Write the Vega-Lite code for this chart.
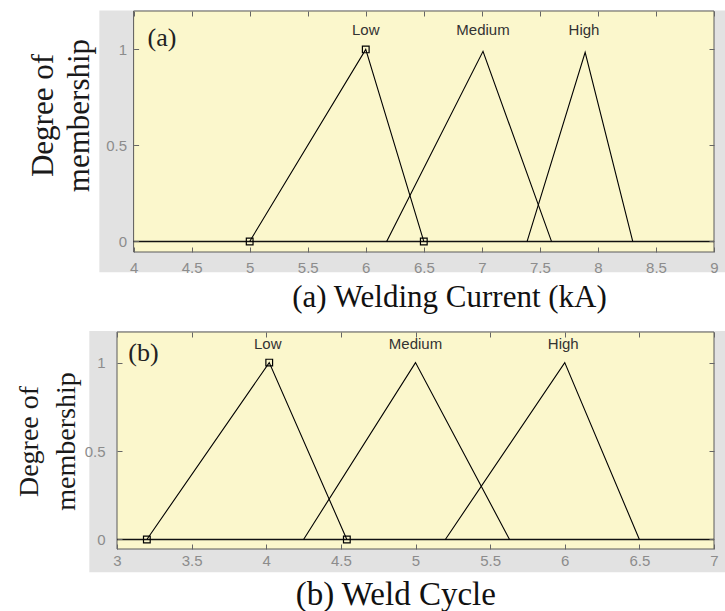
{
  "$schema": "https://vega.github.io/schema/vega-lite/v6.json",
  "background": "white",
  "padding": {"left": 15, "top": 10, "right": 0, "bottom": 0},
  "spacing": 17,
  "config": {"view": {"stroke": null}, "axis": {"titleFont": "Liberation Serif", "labelFont": "Liberation Sans"}},
  "datasets": {
    "curA": [
      {"set": "Low", "x": 5, "y": 0}, {"set": "Low", "x": 6, "y": 1}, {"set": "Low", "x": 6.5, "y": 0},
      {"set": "Medium", "x": 6.18, "y": 0}, {"set": "Medium", "x": 7.01, "y": 0.99}, {"set": "Medium", "x": 7.6, "y": 0},
      {"set": "High", "x": 7.39, "y": 0}, {"set": "High", "x": 7.89, "y": 0.985}, {"set": "High", "x": 8.3, "y": 0}
    ],
    "curB": [
      {"set": "Low", "x": 3.2, "y": 0}, {"set": "Low", "x": 4.02, "y": 1}, {"set": "Low", "x": 4.54, "y": 0},
      {"set": "Medium", "x": 4.25, "y": 0}, {"set": "Medium", "x": 5.0, "y": 1}, {"set": "Medium", "x": 5.63, "y": 0},
      {"set": "High", "x": 5.2, "y": 0}, {"set": "High", "x": 6.0, "y": 1}, {"set": "High", "x": 6.5, "y": 0}
    ],
    "ptsA": [{"x": 5, "y": 0}, {"x": 6, "y": 1}, {"x": 6.5, "y": 0}],
    "ptsB": [{"x": 3.2, "y": 0}, {"x": 4.02, "y": 1}, {"x": 4.54, "y": 0}],
    "labA": [{"label": "Low", "x": 6}, {"label": "Medium", "x": 7.01}, {"label": "High", "x": 7.88}],
    "labB": [{"label": "Low", "x": 4.01}, {"label": "Medium", "x": 5}, {"label": "High", "x": 5.99}],
    "one": [{}]
  },
  "vconcat": [
    {
      "width": 597,
      "height": 241,
      "resolve": {"axis": {"x": "independent", "y": "independent"}},
      "layer": [
        {
          "data": {"name": "one"},
          "mark": {"type": "rect", "color": "#e2e2e2", "clip": false},
          "encoding": {
            "x": {"datum": 3.705, "type": "quantitative", "scale": {"domain": [3.857, 9], "nice": false, "zero": false}, "axis": null},
            "x2": {"datum": 9.1},
            "y": {"datum": -0.16, "type": "quantitative", "scale": {"domain": [-0.055, 1.2], "nice": false, "zero": false}, "axis": null},
            "y2": {"datum": 1.203}
          }
        },
        {
          "data": {"name": "one"},
          "mark": {"type": "rect", "fill": "#fbf7cc", "stroke": "#5a5a5a", "strokeWidth": 1, "clip": false},
          "encoding": {
            "x": {"datum": 4, "type": "quantitative", "scale": {"domain": [3.857, 9], "nice": false, "zero": false},
              "axis": {"orient": "bottom", "values": [4, 4.5, 5, 5.5, 6, 6.5, 7, 7.5, 8, 8.5, 9], "format": "~g", "domain": false, "grid": false,
                "tickSize": -5, "tickColor": "#666", "labelFont": "Liberation Sans", "labelFontSize": 15, "labelColor": "#8c8c8c",
                "labelPadding": 13, "labelFlush": false, "labelOverlap": false,
                "title": "(a) Welding Current (kA)", "titleFont": "Liberation Serif", "titleFontSize": 31, "titleFontWeight": "normal",
                "titleColor": "#111", "titleBaseline": "alphabetic", "titleAlign": "center", "titleX": 332, "titleY": 54.5, "zindex": 1}},
            "x2": {"datum": 9},
            "y": {"datum": -0.055, "type": "quantitative", "scale": {"domain": [-0.055, 1.2], "nice": false, "zero": false},
              "axis": {"orient": "left", "offset": -16.6, "values": [0, 0.5, 1], "format": "~g", "domain": false, "grid": false,
                "tickSize": -5, "tickColor": "#666", "labelFont": "Liberation Sans", "labelFontSize": 15, "labelColor": "#8c8c8c",
                "labelPadding": 12, "labelOverlap": false,
                "title": ["Degree of", "membership"], "titleFont": "Liberation Serif", "titleFontSize": 31, "titleFontWeight": "normal",
                "titleColor": "#1a1a1a", "titleAngle": -90, "titleAlign": "center", "titleBaseline": "middle", "titleLineHeight": 35.5,
                "titleX": -89.8, "titleY": 104, "zindex": 1}},
            "y2": {"datum": 1.2}
          }
        },
        {
          "data": {"name": "one"},
          "mark": {"type": "rule", "color": "#111", "strokeWidth": 1.5},
          "encoding": {
            "x": {"datum": 4, "type": "quantitative", "scale": {"domain": [3.857, 9], "nice": false, "zero": false},
              "axis": {"orient": "top", "values": [4, 4.5, 5, 5.5, 6, 6.5, 7, 7.5, 8, 8.5, 9], "labels": false, "domain": false, "grid": false,
                "tickSize": -5, "tickColor": "#666", "title": null, "zindex": 1}},
            "x2": {"datum": 9},
            "y": {"datum": 0, "type": "quantitative", "scale": {"domain": [-0.055, 1.2], "nice": false, "zero": false},
              "axis": {"orient": "right", "values": [0, 0.5, 1], "labels": false, "domain": false, "grid": false,
                "tickSize": -5, "tickColor": "#666", "title": null, "zindex": 1}}
          }
        },
        {
          "data": {"name": "curA"},
          "mark": {"type": "line", "color": "#000", "strokeWidth": 1.1},
          "encoding": {
            "x": {"field": "x", "type": "quantitative", "scale": {"domain": [3.857, 9], "nice": false, "zero": false}, "axis": null},
            "y": {"field": "y", "type": "quantitative", "scale": {"domain": [-0.055, 1.2], "nice": false, "zero": false}, "axis": null},
            "detail": {"field": "set"}
          }
        },
        {
          "data": {"name": "ptsA"},
          "mark": {"type": "point", "shape": "square", "filled": false, "color": "#000", "size": 45, "strokeWidth": 1.2, "opacity": 1},
          "encoding": {
            "x": {"field": "x", "type": "quantitative", "scale": {"domain": [3.857, 9], "nice": false, "zero": false}, "axis": null},
            "y": {"field": "y", "type": "quantitative", "scale": {"domain": [-0.055, 1.2], "nice": false, "zero": false}, "axis": null}
          }
        },
        {
          "data": {"name": "labA"},
          "mark": {"type": "text", "font": "Liberation Sans", "fontSize": 15, "color": "#333", "align": "center", "baseline": "middle"},
          "encoding": {
            "x": {"field": "x", "type": "quantitative", "scale": {"domain": [3.857, 9], "nice": false, "zero": false}, "axis": null},
            "y": {"datum": 1.1, "type": "quantitative", "scale": {"domain": [-0.055, 1.2], "nice": false, "zero": false}, "axis": null},
            "text": {"field": "label"}
          }
        },
        {
          "data": {"name": "one"},
          "mark": {"type": "text", "text": "(a)", "font": "Liberation Serif", "fontSize": 26, "color": "#222", "align": "left", "baseline": "middle"},
          "encoding": {
            "x": {"datum": 4.12, "type": "quantitative", "scale": {"domain": [3.857, 9], "nice": false, "zero": false}, "axis": null},
            "y": {"datum": 1.06, "type": "quantitative", "scale": {"domain": [-0.055, 1.2], "nice": false, "zero": false}, "axis": null}
          }
        }
      ]
    },
    {
      "width": 597,
      "height": 217,
      "resolve": {"axis": {"x": "independent", "y": "independent"}},
      "layer": [
        {
          "data": {"name": "one"},
          "mark": {"type": "rect", "color": "#e2e2e2", "clip": false},
          "encoding": {
            "x": {"datum": 2.8145, "type": "quantitative", "scale": {"domain": [3, 7], "nice": false, "zero": false}, "axis": null},
            "x2": {"datum": 7.08},
            "y": {"datum": -0.186, "type": "quantitative", "scale": {"domain": [-0.054, 1.173], "nice": false, "zero": false}, "axis": null},
            "y2": {"datum": 1.179}
          }
        },
        {
          "data": {"name": "one"},
          "mark": {"type": "rect", "fill": "#fbf7cc", "stroke": "#5a5a5a", "strokeWidth": 1, "clip": false},
          "encoding": {
            "x": {"datum": 3, "type": "quantitative", "scale": {"domain": [3, 7], "nice": false, "zero": false},
              "axis": {"orient": "bottom", "values": [3, 3.5, 4, 4.5, 5, 5.5, 6, 6.5, 7], "format": "~g", "domain": false, "grid": false,
                "tickSize": -5, "tickColor": "#666", "labelFont": "Liberation Sans", "labelFontSize": 15, "labelColor": "#8c8c8c",
                "labelPadding": 9.5, "labelFlush": false, "labelOverlap": false,
                "title": "(b) Weld Cycle", "titleFont": "Liberation Serif", "titleFontSize": 33, "titleFontWeight": "normal",
                "titleColor": "#111", "titleBaseline": "alphabetic", "titleAlign": "center", "titleX": 278.3, "titleY": 55.5, "zindex": 1}},
            "x2": {"datum": 7},
            "y": {"datum": -0.054, "type": "quantitative", "scale": {"domain": [-0.054, 1.173], "nice": false, "zero": false},
              "axis": {"orient": "left", "values": [0, 0.5, 1], "format": "~g", "domain": false, "grid": false,
                "tickSize": -5, "tickColor": "#666", "labelFont": "Liberation Sans", "labelFontSize": 15, "labelColor": "#8c8c8c",
                "labelPadding": 17, "labelOverlap": false,
                "title": ["Degree of", "membership"], "titleFont": "Liberation Serif", "titleFontSize": 28, "titleFontWeight": "normal",
                "titleColor": "#1a1a1a", "titleAngle": -90, "titleAlign": "center", "titleBaseline": "middle", "titleLineHeight": 37,
                "titleX": -87.7, "titleY": 109, "zindex": 1}},
            "y2": {"datum": 1.173}
          }
        },
        {
          "data": {"name": "one"},
          "mark": {"type": "rule", "color": "#111", "strokeWidth": 1.5},
          "encoding": {
            "x": {"datum": 3, "type": "quantitative", "scale": {"domain": [3, 7], "nice": false, "zero": false},
              "axis": {"orient": "top", "values": [3, 3.5, 4, 4.5, 5, 5.5, 6, 6.5, 7], "labels": false, "domain": false, "grid": false,
                "tickSize": -5, "tickColor": "#666", "title": null, "zindex": 1}},
            "x2": {"datum": 7},
            "y": {"datum": 0, "type": "quantitative", "scale": {"domain": [-0.054, 1.173], "nice": false, "zero": false},
              "axis": {"orient": "right", "values": [0, 0.5, 1], "labels": false, "domain": false, "grid": false,
                "tickSize": -5, "tickColor": "#666", "title": null, "zindex": 1}}
          }
        },
        {
          "data": {"name": "curB"},
          "mark": {"type": "line", "color": "#000", "strokeWidth": 1.1},
          "encoding": {
            "x": {"field": "x", "type": "quantitative", "scale": {"domain": [3, 7], "nice": false, "zero": false}, "axis": null},
            "y": {"field": "y", "type": "quantitative", "scale": {"domain": [-0.054, 1.173], "nice": false, "zero": false}, "axis": null},
            "detail": {"field": "set"}
          }
        },
        {
          "data": {"name": "ptsB"},
          "mark": {"type": "point", "shape": "square", "filled": false, "color": "#000", "size": 45, "strokeWidth": 1.2, "opacity": 1},
          "encoding": {
            "x": {"field": "x", "type": "quantitative", "scale": {"domain": [3, 7], "nice": false, "zero": false}, "axis": null},
            "y": {"field": "y", "type": "quantitative", "scale": {"domain": [-0.054, 1.173], "nice": false, "zero": false}, "axis": null}
          }
        },
        {
          "data": {"name": "labB"},
          "mark": {"type": "text", "font": "Liberation Sans", "fontSize": 15, "color": "#333", "align": "center", "baseline": "middle"},
          "encoding": {
            "x": {"field": "x", "type": "quantitative", "scale": {"domain": [3, 7], "nice": false, "zero": false}, "axis": null},
            "y": {"datum": 1.105, "type": "quantitative", "scale": {"domain": [-0.054, 1.173], "nice": false, "zero": false}, "axis": null},
            "text": {"field": "label"}
          }
        },
        {
          "data": {"name": "one"},
          "mark": {"type": "text", "text": "(b)", "font": "Liberation Serif", "fontSize": 26, "color": "#222", "align": "left", "baseline": "middle"},
          "encoding": {
            "x": {"datum": 3.076, "type": "quantitative", "scale": {"domain": [3, 7], "nice": false, "zero": false}, "axis": null},
            "y": {"datum": 1.052, "type": "quantitative", "scale": {"domain": [-0.054, 1.173], "nice": false, "zero": false}, "axis": null}
          }
        }
      ]
    }
  ]
}
